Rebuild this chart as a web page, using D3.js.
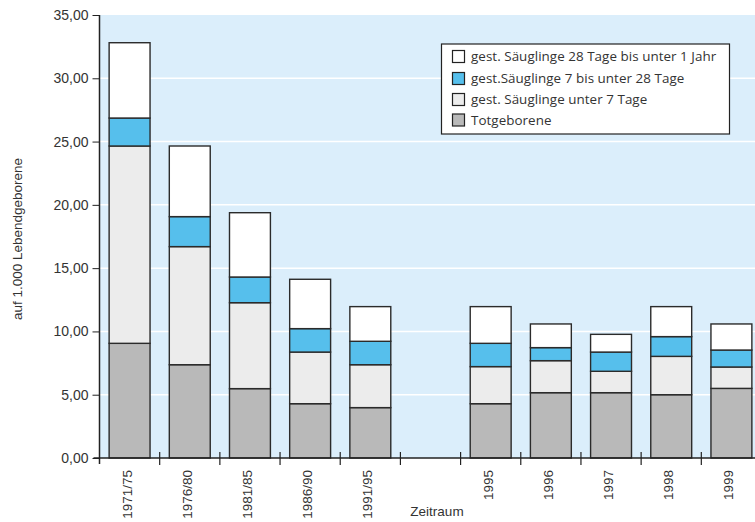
<!DOCTYPE html>
<html><head><meta charset="utf-8">
<script src="https://cdn.jsdelivr.net/npm/d3@7"></script>
<style>body{margin:0;background:#fff;overflow:hidden}svg{display:block}</style>
</head><body>
<svg id="c" width="755" height="522"></svg>
<script>
const categories = ["1971/75","1976/80","1981/85","1986/90","1991/95","","1995","1996","1997","1998","1999"];
const seriesNames = ["Totgeborene","gest. Säuglinge unter 7 Tage","gest.Säuglinge 7 bis unter 28 Tage","gest. Säuglinge 28 Tage bis unter 1 Jahr"];
const totgeborene = [9.06, 7.37, 5.48, 4.29, 3.98, null, 4.29, 5.16, 5.16, 5.00, 5.50];
const unter7      = [15.59, 9.33, 6.79, 4.08, 3.39, null, 2.93, 2.53, 1.69, 3.03, 1.69];
const tage7bis28  = [2.21, 2.37, 2.03, 1.85, 1.85, null, 1.84, 1.03, 1.52, 1.56, 1.34];
const tage28bis1J = [5.95, 5.58, 5.08, 3.90, 2.74, null, 2.90, 1.87, 1.40, 2.37, 2.06];
const yTicks = [0,5,10,15,20,25,30,35];
const colors = ["#b9b9b9","#ececec","#56bfec","#ffffff"];

const svg = d3.select("#c");
const pL = 99.5, pR = 761.5, pT = 15, pB = 458;
const x = d3.scaleBand().domain(categories.map((c,i)=>i)).range([pL,pR]).paddingInner(0.32).paddingOuter(0.16);
const y = d3.scaleLinear().domain([0,35]).range([pB,pT]);

// background
svg.append("rect").attr("x",pL).attr("y",pT).attr("width",pR-pL).attr("height",pB-pT).attr("fill","#dbeefb");
// gridlines
svg.append("g").selectAll("line").data(yTicks.filter(d=>d>0 && d<35)).join("line")
  .attr("x1",pL).attr("x2",pR).attr("y1",d=>y(d)).attr("y2",d=>y(d))
  .attr("stroke","#ffffff").attr("stroke-width",1.5);

// stacked data
const seriesArr = [totgeborene, unter7, tage7bis28, tage28bis1J];
const rows = categories.map((c,i)=>({i, v: seriesArr.map(s=>s[i])})).filter(r=>r.v[0]!==null);
const stack = d3.stack().keys([0,1,2,3]).value((d,k)=>d.v[k]);
const stacked = stack(rows);

svg.append("g").selectAll("g").data(stacked).join("g")
  .attr("fill",(d,k)=>colors[k])
  .selectAll("rect").data(d=>d).join("rect")
  .attr("x",d=>x(d.data.i)).attr("width",x.bandwidth())
  .attr("y",d=>y(d[1])).attr("height",d=>y(d[0])-y(d[1]))
  .attr("stroke","#2b2b2b").attr("stroke-width",1.4);

// y axis
const yAxis = d3.axisLeft(y).tickValues(yTicks).tickSize(7).tickPadding(4)
  .tickFormat(d=>d3.format(".2f")(d).replace(".",","));
const gy = svg.append("g").attr("transform",`translate(${pL},0)`).call(yAxis);
gy.select(".domain").remove();
gy.selectAll("line").attr("stroke","#222");
gy.selectAll("text").attr("font-family","Liberation Sans, Arial, sans-serif").attr("font-size",14).attr("fill","#333");
svg.append("line").attr("x1",pL).attr("x2",pL).attr("y1",pT).attr("y2",pB+6).attr("stroke","#222").attr("stroke-width",1.5);

// x axis
svg.append("line").attr("x1",pL-6).attr("x2",pR).attr("y1",pB).attr("y2",pB).attr("stroke","#222").attr("stroke-width",1.5);
const bounds = d3.range(1,categories.length).map(k=>pL + k*x.step());
svg.append("g").selectAll("line").data(bounds).join("line")
  .attr("x1",d=>d).attr("x2",d=>d).attr("y1",pB-6).attr("y2",pB+7)
  .attr("stroke","#222").attr("stroke-width",1.2);
svg.append("g").selectAll("text").data(categories.map((c,i)=>({c,i})).filter(d=>d.c!=="")).join("text")
  .attr("transform",d=>`translate(${x(d.i)+x.bandwidth()/2+2},${pB+12}) rotate(-90)`)
  .attr("text-anchor","end")
  .attr("font-family","Liberation Sans, Arial, sans-serif").attr("font-size",13.5).attr("fill","#333")
  .text(d=>d.c);

// axis titles
svg.append("text").attr("transform","translate(22,239) rotate(-90)").attr("text-anchor","middle")
  .attr("font-family","Liberation Sans, Arial, sans-serif").attr("font-size",13.5).attr("fill","#333")
  .text("auf 1.000 Lebendgeborene");
svg.append("text").attr("x",437).attr("y",516).attr("text-anchor","middle")
  .attr("font-family","Liberation Sans, Arial, sans-serif").attr("font-size",13.5).attr("fill","#333")
  .text("Zeitraum");

// legend
const lg = svg.append("g");
lg.append("rect").attr("x",441.5).attr("y",44).attr("width",288).attr("height",90)
  .attr("fill","#fff").attr("stroke","#222").attr("stroke-width",1.2);
const legendOrder = [3,2,1,0];
const legendY = [56.5,78.5,99.5,120];
legendOrder.forEach((k,j)=>{
  lg.append("rect").attr("x",452.5).attr("y",legendY[j]-6).attr("width",12).attr("height",12)
    .attr("fill",colors[k]).attr("stroke","#222").attr("stroke-width",1.2);
  lg.append("text").attr("x",471).attr("y",legendY[j]+4.5)
    .attr("font-family","Open Sans, sans-serif").attr("font-size",13.4).attr("letter-spacing",0.05).attr("fill","#333")
    .text(seriesNames[k]);
});
</script>
</body></html>
